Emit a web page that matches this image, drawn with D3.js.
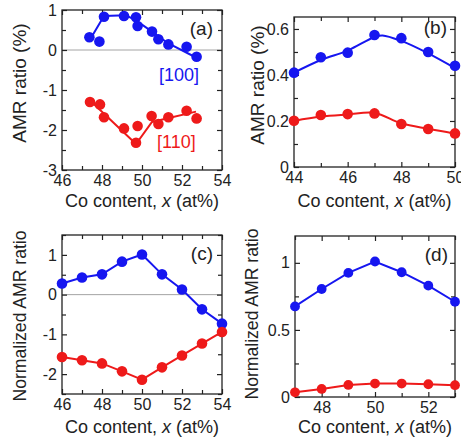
<!DOCTYPE html>
<html>
<head>
<meta charset="utf-8">
<script src="https://cdn.jsdelivr.net/npm/d3@7"></script>
<style>
  body { margin: 0; background: #fff; }
  svg { display: block; }
  text { font-family: "Liberation Sans", Arial, Helvetica, sans-serif; fill: #222; }
</style>
</head>
<body>
<svg id="chart" width="461" height="440"></svg>
<script>
// ---- (a) AMR ratio of single crystals vs Co content, [100] and [110] ----
const aCo100   = [47.37, 47.87, 48.1, 49.1, 49.7, 49.78, 50.5, 50.82, 51.32, 52.23, 52.73];
const aAmr100  = [0.32, 0.21, 0.83, 0.85, 0.82, 0.60, 0.46, 0.27, 0.14, 0.08, -0.17];
const aFitCo100 = [47.35, 48.1, 49.2, 49.75, 50.5, 51.3, 52.75];
const aFit100   = [0.22, 0.85, 0.87, 0.72, 0.46, 0.17, -0.20];
const aCo110   = [47.4, 47.9, 48.1, 49.1, 49.7, 49.78, 50.48, 50.82, 51.32, 52.23, 52.73];
const aAmr110  = [-1.30, -1.36, -1.68, -1.96, -2.32, -1.90, -1.65, -1.85, -1.68, -1.52, -1.71];
const aFitCo110 = [47.35, 49.7, 50.5, 52.7];
const aFit110   = [-1.24, -2.35, -1.80, -1.54];

// ---- (b) AMR ratio, two series with smooth guide curves ----
const bCo      = [44, 45, 46, 47, 48, 49, 50];
const bAmrBlue = [0.41, 0.477, 0.497, 0.574, 0.56, 0.50, 0.44];
const bAmrRed  = [0.201, 0.226, 0.23, 0.233, 0.187, 0.165, 0.146];
const bFitCoBlue = [44, 45, 46, 47, 47.3, 48, 49, 50];
const bFitBlue   = [0.41, 0.465, 0.506, 0.565, 0.572, 0.548, 0.494, 0.43];
const bFitCoRed  = [44, 45, 46, 47, 48, 49, 50];
const bFitRed    = [0.20, 0.219, 0.228, 0.235, 0.19, 0.166, 0.145];

// ---- (c) normalized AMR ratio ----
const cCo      = [46, 47, 48, 49, 50, 51, 52, 53, 54];
const cNormBlue = [0.28, 0.43, 0.51, 0.83, 1.01, 0.51, 0.13, -0.37, -0.73];
const cNormRed  = [-1.57, -1.65, -1.73, -1.93, -2.14, -1.83, -1.53, -1.23, -0.94];

// ---- (d) normalized AMR ratio ----
const dCo      = [47, 48, 49, 50, 51, 52, 53];
const dNormBlue = [0.675, 0.805, 0.925, 1.01, 0.93, 0.83, 0.71];
const dNormRed  = [0.035, 0.06, 0.09, 0.10, 0.10, 0.095, 0.088];

// ---- tick values ----
const aXMajor = [46, 48, 50, 52, 54], aXMinor = [47, 49, 51, 53];
const aYMajor = [-3, -2, -1, 0, 1],   aYMinor = [-2.5, -1.5, -0.5, 0.5];
const bXMajor = [44, 46, 48, 50],     bXMinor = [45, 47, 49];
const bYMajor = [0, 0.2, 0.4, 0.6],   bYMinor = [0.1, 0.3, 0.5];
const cXMajor = [46, 48, 50, 52, 54], cXMinor = [47, 49, 51, 53];
const cYMajor = [-2, -1, 0, 1],       cYMinor = [-2.5, -1.5, -0.5, 0.5, 1.5];
const dXMajor = [48, 50, 52],         dXMinor = [47, 49, 51, 53];
const dYMajor = [0, 0.5, 1],          dYMinor = [0.25, 0.75];

const BLUE = "#1616f0", RED = "#ee1a1a";
const zip = (xs, ys) => xs.map((x, i) => [x, ys[i]]);
const fmt = v => String(v);

const svg = d3.select("#chart");

function drawPanel(p) {
  const x = d3.scaleLinear().domain(p.xDomain).range([p.left, p.right]);
  const y = d3.scaleLinear().domain(p.yDomain).range([p.bottom, p.top]);
  const g = svg.append("g");
  const w = p.right - p.left, h = p.bottom - p.top;

  if (p.zeroLine) {
    g.append("line")
      .attr("x1", p.left).attr("x2", p.right)
      .attr("y1", y(0)).attr("y2", y(0))
      .attr("stroke", "#9a9a9a").attr("stroke-width", 0.9);
  }

  const styleAxis = sel => {
    sel.select(".domain").remove();
    sel.selectAll(".tick line").attr("stroke", "#222").attr("stroke-width", 1.2);
    sel.selectAll("text").attr("font-size", 16).attr("fill", "#222")
      .style("font-family", '"Liberation Sans", Arial, sans-serif');
  };

  // bottom / left with labels (ticks point inward)
  g.append("g").attr("transform", `translate(0,${p.bottom})`)
    .call(d3.axisBottom(x).tickValues(p.xMajor).tickSize(-5).tickPadding(5).tickFormat(fmt))
    .call(styleAxis);
  g.append("g").attr("transform", `translate(${p.left},0)`)
    .call(d3.axisLeft(y).tickValues(p.yMajor).tickSize(-5).tickPadding(5).tickFormat(fmt))
    .call(styleAxis);
  // mirrored top / right
  g.append("g").attr("transform", `translate(0,${p.top})`)
    .call(d3.axisTop(x).tickValues(p.xMajor).tickSize(-5).tickFormat(""))
    .call(styleAxis);
  g.append("g").attr("transform", `translate(${p.right},0)`)
    .call(d3.axisRight(y).tickValues(p.yMajor).tickSize(-5).tickFormat(""))
    .call(styleAxis);
  // minor ticks on all four sides
  [[d3.axisBottom(x), p.bottom, p.xMinor, true], [d3.axisTop(x), p.top, p.xMinor, true],
   [d3.axisLeft(y), p.left, p.yMinor, false], [d3.axisRight(y), p.right, p.yMinor, false]]
    .forEach(([ax, pos, vals, horiz]) => {
      g.append("g").attr("transform", horiz ? `translate(0,${pos})` : `translate(${pos},0)`)
        .call(ax.tickValues(vals).tickSize(-4).tickFormat(""))
        .call(styleAxis);
    });

  // frame
  g.append("rect").attr("x", p.left).attr("y", p.top).attr("width", w).attr("height", h)
    .attr("fill", "none").attr("stroke", "#222").attr("stroke-width", 1.3);

  // series
  p.series.forEach(s => {
    const line = d3.line().x(d => x(d[0])).y(d => y(d[1])).curve(s.curve || d3.curveLinear);
    g.append("path").datum(s.fit).attr("d", line)
      .attr("fill", "none").attr("stroke", s.color).attr("stroke-width", 2);
    g.selectAll(null).data(s.points).join("circle")
      .attr("cx", d => x(d[0])).attr("cy", d => y(d[1])).attr("r", p.r)
      .attr("fill", s.color);
  });

  // panel tag
  g.append("text").attr("x", p.right - p.tagDx).attr("y", p.top + p.tagDy)
    .attr("text-anchor", "end").attr("font-size", 19).text(p.tag);

  // axis titles
  const xt = g.append("text").attr("x", (p.left + p.right) / 2).attr("y", p.xTitleY)
    .attr("text-anchor", "middle").attr("font-size", 18);
  xt.append("tspan").text("Co content, ");
  xt.append("tspan").attr("font-style", "italic").text("x");
  xt.append("tspan").text(" (at%)");

  g.append("text")
    .attr("transform", `translate(${p.yTitleX},${p.yTitleMid}) rotate(-90)`)
    .attr("text-anchor", "middle").attr("font-size", p.yTitleSize).text(p.yTitle);

  (p.notes || []).forEach(n => {
    g.append("text").attr("x", x(n.at[0])).attr("y", y(n.at[1]))
      .attr("font-size", 18).attr("fill", n.color).style("fill", n.color).text(n.text);
  });
}

drawPanel({
  tag: "(a)", tagDx: 9, tagDy: 25, left: 62, right: 222, top: 10, bottom: 170,
  xDomain: [46, 54], yDomain: [-3, 1], r: 5.3, zeroLine: true,
  xMajor: aXMajor, xMinor: aXMinor, yMajor: aYMajor, yMinor: aYMinor,
  xTitleY: 207, yTitleX: 26, yTitleMid: 83, yTitleSize: 19, yTitle: "AMR ratio (%)",
  series: [
    { color: BLUE, points: zip(aCo100, aAmr100), fit: zip(aFitCo100, aFit100) },
    { color: RED,  points: zip(aCo110, aAmr110), fit: zip(aFitCo110, aFit110) }
  ],
  notes: [
    { text: "[100]", color: BLUE, at: [50.85, -0.78] },
    { text: "[110]", color: RED,  at: [50.75, -2.45] }
  ]
});

drawPanel({
  tag: "(b)", tagDx: 8, tagDy: 17, left: 294, right: 455, top: 17, bottom: 167,
  xDomain: [44, 50], yDomain: [0, 0.652], r: 5.3,
  xMajor: bXMajor, xMinor: bXMinor, yMajor: bYMajor, yMinor: bYMinor,
  xTitleY: 207, yTitleX: 264, yTitleMid: 85, yTitleSize: 19, yTitle: "AMR ratio (%)",
  series: [
    { color: BLUE, points: zip(bCo, bAmrBlue), fit: zip(bFitCoBlue, bFitBlue), curve: d3.curveCatmullRom },
    { color: RED,  points: zip(bCo, bAmrRed),  fit: zip(bFitCoRed, bFitRed),   curve: d3.curveCatmullRom }
  ]
});

drawPanel({
  tag: "(c)", tagDx: 9, tagDy: 25, left: 62, right: 222, top: 235, bottom: 394,
  xDomain: [46, 54], yDomain: [-2.5, 1.5], r: 5.3, zeroLine: true,
  xMajor: cXMajor, xMinor: cXMinor, yMajor: cYMajor, yMinor: cYMinor,
  xTitleY: 433, yTitleX: 26, yTitleMid: 316, yTitleSize: 17.6, yTitle: "Normalized AMR ratio",
  series: [
    { color: BLUE, points: zip(cCo, cNormBlue), fit: zip(cCo, cNormBlue) },
    { color: RED,  points: zip(cCo, cNormRed),  fit: zip(cCo, cNormRed) }
  ]
});

drawPanel({
  tag: "(d)", tagDx: 7, tagDy: 25, left: 295, right: 455, top: 236, bottom: 397,
  xDomain: [47, 53], yDomain: [0, 1.2], r: 4.9,
  xMajor: dXMajor, xMinor: dXMinor, yMajor: dYMajor, yMinor: dYMinor,
  xTitleY: 433, yTitleX: 258, yTitleMid: 314, yTitleSize: 17.6, yTitle: "Normalized AMR ratio",
  series: [
    { color: BLUE, points: zip(dCo, dNormBlue), fit: zip(dCo, dNormBlue) },
    { color: RED,  points: zip(dCo, dNormRed),  fit: zip(dCo, dNormRed) }
  ]
});
</script>
</body>
</html>
